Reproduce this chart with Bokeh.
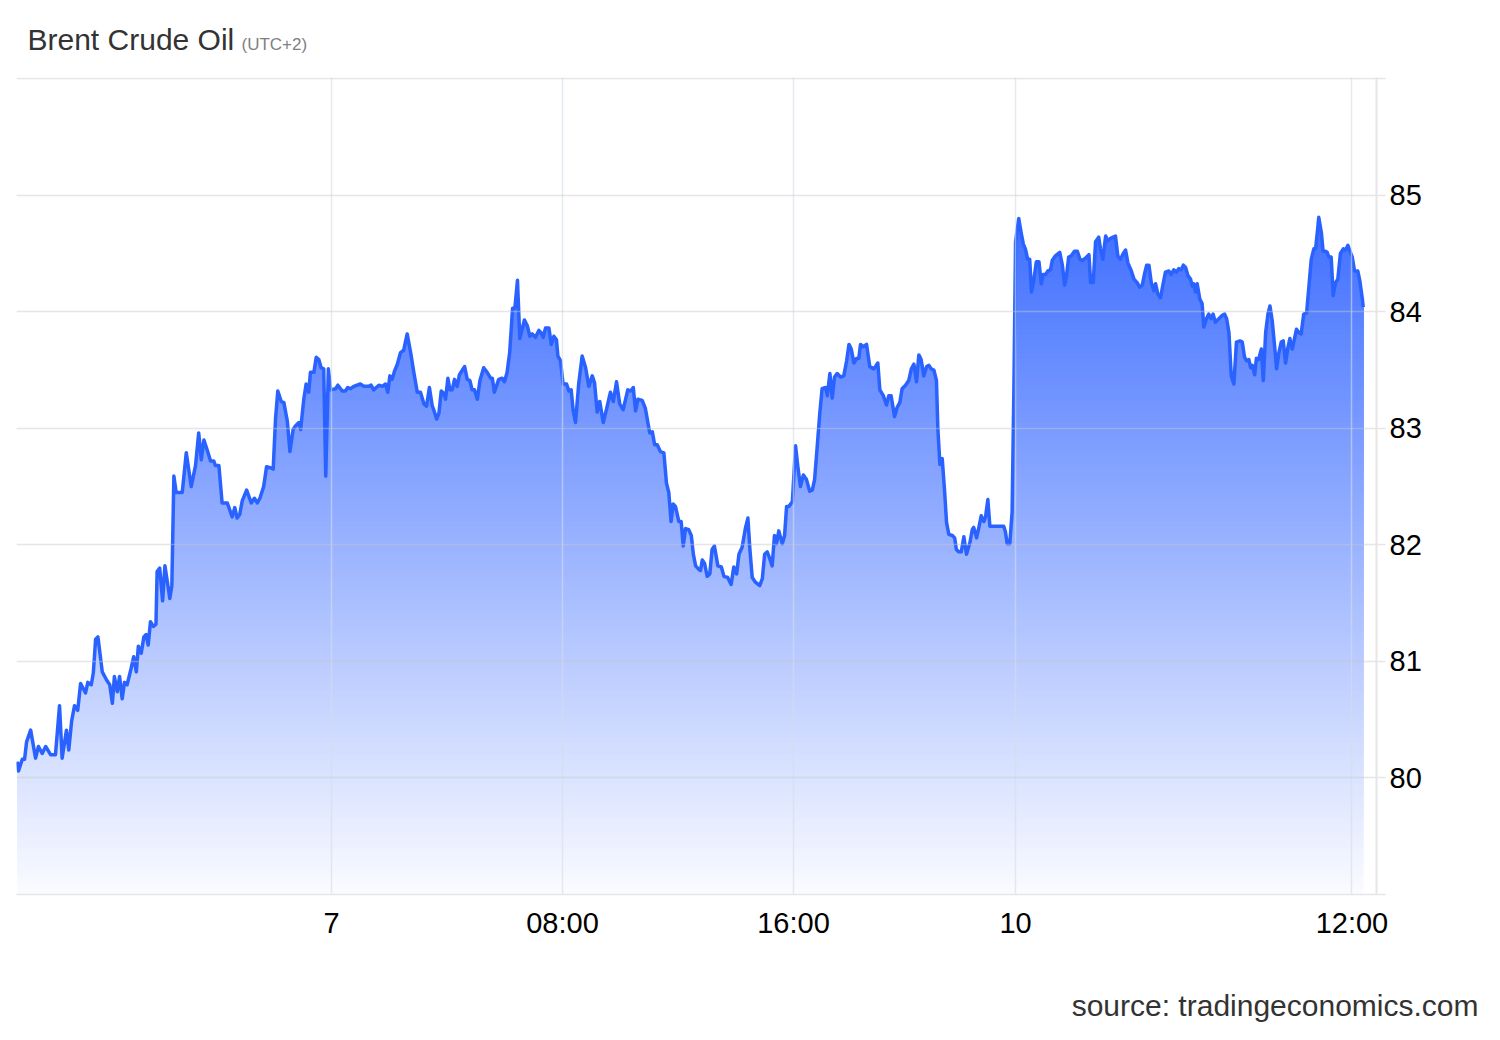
import numpy as np
from bokeh.plotting import figure
from bokeh.models import Range1d, FixedTicker, Label
from bokeh.embed import file_html
from bokeh.resources import INLINE

TITLE = "Brent Crude Oil"
SUBTITLE = "(UTC+2)"
SOURCE = "source: tradingeconomics.com"

# trading hours relative to day "7" 00:00 (weekend removed)
TIME_H = [
    -10.88, -10.84, -10.71, -10.63, -10.56, -10.42, -10.25, -10.15, -10.02, -9.90,
    -9.73, -9.56, -9.42, -9.33, -9.18, -9.10, -9.00, -8.90, -8.79, -8.69,
    -8.52, -8.44, -8.32, -8.25, -8.17, -8.09, -7.94, -7.79, -7.68, -7.59,
    -7.52, -7.42, -7.34, -7.25, -7.17, -7.08, -6.94, -6.85, -6.76, -6.69,
    -6.59, -6.50, -6.42, -6.35, -6.27, -6.17, -6.08, -6.04, -5.95, -5.85,
    -5.77, -5.69, -5.60, -5.53, -5.46, -5.38, -5.17, -5.03, -4.86, -4.71,
    -4.60, -4.51, -4.42, -4.30, -4.19, -4.08, -4.02, -3.90, -3.79, -3.61,
    -3.44, -3.35, -3.27, -3.18, -3.09, -2.94, -2.78, -2.67, -2.57, -2.48,
    -2.35, -2.25, -2.09, -2.02, -1.94, -1.86, -1.74, -1.65, -1.53, -1.44,
    -1.33, -1.25, -1.13, -1.07, -0.96, -0.88, -0.79, -0.73, -0.61, -0.53,
    -0.44, -0.36, -0.27, -0.20, -0.11, -0.03, 0.14, 0.22, 0.37, 0.48,
    0.56, 0.66, 0.77, 1.00, 1.12, 1.29, 1.37, 1.46, 1.64, 1.76,
    1.87, 1.95, 2.02, 2.10, 2.18, 2.28, 2.39, 2.50, 2.62, 2.74,
    2.85, 2.97, 3.08, 3.20, 3.29, 3.39, 3.49, 3.54, 3.64, 3.72,
    3.80, 3.89, 3.95, 4.03, 4.10, 4.18, 4.26, 4.35, 4.43, 4.61,
    4.70, 4.79, 4.87, 4.95, 5.05, 5.14, 5.27, 5.39, 5.51, 5.57,
    5.64, 5.79, 5.91, 5.99, 6.08, 6.17, 6.27, 6.35, 6.44, 6.52,
    6.68, 6.78, 6.87, 6.95, 7.06, 7.18, 7.26, 7.33, 7.41, 7.53,
    7.61, 7.70, 7.79, 7.84, 7.93, 8.02, 8.14, 8.22, 8.30, 8.37,
    8.45, 8.56, 8.68, 8.80, 8.91, 9.03, 9.11, 9.20, 9.29, 9.41,
    9.52, 9.66, 9.76, 9.87, 9.98, 10.10, 10.26, 10.36, 10.45, 10.53,
    10.61, 10.76, 10.87, 11.02, 11.11, 11.19, 11.28, 11.39, 11.51, 11.60,
    11.68, 11.76, 11.83, 11.91, 12.03, 12.11, 12.18, 12.26, 12.37, 12.46,
    12.53, 12.61, 12.72, 12.78, 12.84, 12.92, 13.01, 13.10, 13.18, 13.26,
    13.38, 13.50, 13.59, 13.72, 13.84, 13.93, 14.03, 14.11, 14.22, 14.34,
    14.42, 14.49, 14.57, 14.68, 14.83, 14.92, 15.00, 15.09, 15.18, 15.26,
    15.34, 15.41, 15.49, 15.61, 15.69, 15.76, 15.84, 15.96, 16.07, 16.15,
    16.24, 16.34, 16.45, 16.56, 16.65, 16.73, 16.82, 16.91, 16.99, 17.11,
    17.17, 17.26, 17.34, 17.42, 17.51, 17.63, 17.74, 17.84, 17.92, 18.00,
    18.09, 18.18, 18.26, 18.32, 18.41, 18.53, 18.64, 18.78, 18.84, 18.92,
    18.99, 19.11, 19.22, 19.30, 19.38, 19.50, 19.59, 19.68, 19.76, 19.88,
    19.99, 20.08, 20.17, 20.26, 20.34, 20.42, 20.51, 20.61, 20.69, 20.77,
    20.86, 20.95, 21.00, 21.07, 21.15, 21.23, 21.30, 21.38, 21.50, 21.58,
    21.64, 21.72, 21.81, 21.90, 21.99, 22.11, 22.19, 22.24, 22.34, 22.42,
    22.50, 22.59, 22.65, 22.73, 22.80, 22.94, 23.11, 23.28, 23.34, 23.40,
    23.49, 23.57, 23.63, 23.69, 23.80, 23.89, 23.96, 24.03, 24.11, 24.18,
    24.24, 24.32, 24.41, 24.50, 24.58, 24.65, 24.73, 24.81, 24.90, 24.96,
    25.07, 25.22, 25.31, 25.39, 25.45, 25.53, 25.62, 25.73, 25.83, 25.92,
    26.00, 26.11, 26.23, 26.29, 26.38, 26.46, 26.57, 26.63, 26.71, 26.81,
    26.88, 26.98, 27.15, 27.23, 27.32, 27.42, 27.50, 27.58, 27.70, 27.79,
    27.90, 27.99, 28.08, 28.16, 28.23, 28.31, 28.39, 28.48, 28.54, 28.62,
    28.71, 28.80, 28.88, 29.00, 29.08, 29.17, 29.26, 29.34, 29.43, 29.50,
    29.58, 29.66, 29.75, 29.81, 29.86, 29.92, 29.98, 30.07, 30.15, 30.21,
    30.30, 30.38, 30.46, 30.53, 30.61, 30.73, 30.85, 30.93, 31.00, 31.08,
    31.16, 31.25, 31.34, 31.46, 31.54, 31.62, 31.69, 31.77, 31.83, 31.89,
    31.97, 32.03, 32.11, 32.20, 32.27, 32.35, 32.43, 32.50, 32.58, 32.66,
    32.73, 32.81, 32.89, 32.96, 33.04, 33.12, 33.19, 33.27, 33.35, 33.42,
    33.50, 33.58, 33.67, 33.77, 33.85, 33.93, 34.02, 34.08, 34.14, 34.19,
    34.28, 34.34, 34.42, 34.48, 34.54, 34.62, 34.69, 34.77, 34.85, 34.94,
    35.04, 35.12, 35.20, 35.27, 35.35, 35.43, 35.54, 35.61, 35.70, 35.73,
]

PRICE = [
    80.14, 80.06, 80.16, 80.16, 80.31, 80.41, 80.17, 80.27, 80.21, 80.27,
    80.20, 80.20, 80.62, 80.17, 80.41, 80.24, 80.49, 80.62, 80.58, 80.81,
    80.73, 80.82, 80.80, 80.90, 81.19, 81.21, 80.91, 80.84, 80.80, 80.64,
    80.87, 80.74, 80.87, 80.68, 80.82, 80.80, 80.94, 81.04, 80.91, 81.13,
    81.07, 81.21, 81.23, 81.14, 81.34, 81.30, 81.32, 81.77, 81.80, 81.52,
    81.82, 81.69, 81.54, 81.65, 82.59, 82.45, 82.45, 82.79, 82.50, 82.68,
    82.96, 82.73, 82.90, 82.81, 82.72, 82.72, 82.68, 82.68, 82.36, 82.36,
    82.24, 82.32, 82.23, 82.26, 82.38, 82.47, 82.36, 82.40, 82.36, 82.40,
    82.50, 82.67, 82.66, 82.65, 83.08, 83.32, 83.23, 83.22, 83.06, 82.80,
    82.99, 83.02, 83.05, 82.99, 83.25, 83.38, 83.31, 83.48, 83.48, 83.61,
    83.59, 83.52, 83.51, 82.59, 83.51, 83.33, 83.34, 83.37, 83.32, 83.32,
    83.35, 83.34, 83.36, 83.38, 83.36, 83.36, 83.37, 83.33, 83.37, 83.36,
    83.38, 83.31, 83.45, 83.42, 83.49, 83.55, 83.65, 83.67, 83.81, 83.65,
    83.48, 83.31, 83.31, 83.21, 83.19, 83.35, 83.19, 83.16, 83.08, 83.13,
    83.32, 83.30, 83.25, 83.43, 83.33, 83.33, 83.42, 83.36, 83.46, 83.53,
    83.42, 83.41, 83.33, 83.33, 83.25, 83.41, 83.52, 83.48, 83.43, 83.43,
    83.31, 83.42, 83.43, 83.40, 83.48, 83.65, 84.03, 84.03, 84.27, 83.77,
    83.93, 83.88, 83.79, 83.81, 83.78, 83.84, 83.82, 83.78, 83.86, 83.86,
    83.72, 83.79, 83.76, 83.62, 83.58, 83.38, 83.38, 83.32, 83.33, 83.15,
    83.05, 83.38, 83.62, 83.52, 83.36, 83.45, 83.39, 83.14, 83.23, 83.05,
    83.16, 83.31, 83.23, 83.40, 83.21, 83.16, 83.33, 83.32, 83.35, 83.15,
    83.25, 83.24, 83.17, 82.96, 82.97, 82.86, 82.86, 82.80, 82.79, 82.53,
    82.45, 82.20, 82.35, 82.33, 82.20, 82.20, 81.99, 82.14, 82.13, 82.08,
    81.92, 81.82, 81.79, 81.78, 81.87, 81.84, 81.73, 81.75, 81.96, 81.99,
    81.82, 81.81, 81.73, 81.72, 81.66, 81.81, 81.75, 81.92, 81.98, 82.15,
    82.23, 81.96, 81.72, 81.68, 81.65, 81.71, 81.92, 81.94, 81.88, 81.82,
    82.08, 82.01, 82.12, 82.01, 82.08, 82.33, 82.33, 82.37, 82.85, 82.67,
    82.50, 82.60, 82.56, 82.46, 82.47, 82.56, 82.84, 83.13, 83.34, 83.35,
    83.28, 83.47, 83.26, 83.44, 83.47, 83.44, 83.45, 83.58, 83.72, 83.68,
    83.56, 83.60, 83.60, 83.72, 83.70, 83.72, 83.53, 83.51, 83.53, 83.56,
    83.33, 83.28, 83.20, 83.28, 83.28, 83.10, 83.18, 83.22, 83.34, 83.37,
    83.41, 83.51, 83.55, 83.40, 83.63, 83.59, 83.45, 83.53, 83.54, 83.51,
    83.50, 83.41, 82.99, 82.69, 82.74, 82.47, 82.19, 82.09, 82.08, 82.06,
    81.96, 81.94, 81.94, 82.07, 81.92, 82.02, 82.13, 82.15, 82.06, 82.15,
    82.25, 82.20, 82.24, 82.39, 82.16, 82.16, 82.16, 82.16, 82.11, 82.01,
    82.01, 82.28, 83.30, 84.60, 84.80, 84.67, 84.58, 84.54, 84.45, 84.45,
    84.17, 84.27, 84.43, 84.43, 84.24, 84.32, 84.32, 84.35, 84.36, 84.44,
    84.48, 84.51, 84.40, 84.23, 84.30, 84.47, 84.48, 84.52, 84.52, 84.45,
    84.44, 84.46, 84.49, 84.25, 84.25, 84.60, 84.64, 84.54, 84.45, 84.65,
    84.61, 84.63, 84.65, 84.48, 84.45, 84.50, 84.53, 84.42, 84.35, 84.28,
    84.25, 84.21, 84.23, 84.33, 84.40, 84.40, 84.25, 84.18, 84.24, 84.15,
    84.12, 84.24, 84.34, 84.35, 84.32, 84.36, 84.34, 84.37, 84.36, 84.40,
    84.38, 84.31, 84.28, 84.22, 84.24, 84.17, 84.24, 84.11, 84.07, 83.87,
    83.94, 83.98, 83.94, 83.98, 83.91, 83.94, 83.97, 83.98, 83.94, 83.82,
    83.45, 83.38, 83.74, 83.75, 83.74, 83.61, 83.58, 83.59, 83.52, 83.54,
    83.46, 83.60, 83.59, 83.68, 83.41, 83.82, 83.98, 84.05, 83.92, 83.71,
    83.51, 83.65, 83.74, 83.75, 83.56, 83.69, 83.77, 83.68, 83.77, 83.85,
    83.82, 83.81, 83.98, 83.99, 84.22, 84.45, 84.54, 84.54, 84.68, 84.81,
    84.68, 84.52, 84.52, 84.51, 84.47, 84.47, 84.14, 84.25, 84.28, 84.50,
    84.54, 84.53, 84.57, 84.52, 84.47, 84.35, 84.35, 84.27, 84.11, 84.04,
]

X_TICKS = [0.0, 8.0, 16.0, 23.69, 35.34]
X_LABELS = ["7", "08:00", "16:00", "10", "12:00"]
Y_TICKS = [80, 81, 82, 83, 84, 85]
Y_BOTTOM, Y_TOP = 79, 86
X_MIN, X_MAX = -10.91, 36.19

LINE_COLOR = "#2962ff"
TOP_RGB = (62, 110, 255)
BOTTOM_RGB = (250, 251, 255)
FONT = "Liberation Sans"

W, H = 1492, 1030
p = figure(width=W, height=H, output_backend="svg", toolbar_location=None,
           x_range=Range1d(X_MIN, X_MAX), y_range=Range1d(Y_BOTTOM, Y_TOP + 0.01),
           y_axis_location="right",
           min_border_left=16, min_border_right=116,
           min_border_top=77, min_border_bottom=136)
p.outline_line_color = None
p.background_fill_color = "white"
p.border_fill_color = "white"

# title
p.title.text = TITLE
p.title.align = "left"
p.title.offset = 11
p.title.standoff = 6
p.title.text_font = FONT
p.title.text_font_size = "30px"
p.title.text_font_style = "normal"
p.title.text_color = "#333333"

# gradient area: stacked opaque bands, painted bottom-up
xs = np.asarray(TIME_H, dtype=float)
ys = np.asarray(PRICE, dtype=float)
top_v = ys.max()


def band_top(level):
    ox, oy = [xs[0]], [max(ys[0], level)]
    for i in range(len(xs) - 1):
        d0, d1 = ys[i] - level, ys[i + 1] - level
        if d0 * d1 < 0:
            t = d0 / (d0 - d1)
            ox.append(xs[i] + t * (xs[i + 1] - xs[i]))
            oy.append(level)
        ox.append(xs[i + 1])
        oy.append(max(ys[i + 1], level))
    return ox, oy


levels = np.arange(Y_BOTTOM, top_v, 0.05)
for lv in levels:
    t = (lv - Y_BOTTOM) / (top_v - Y_BOTTOM)
    r = int(round(BOTTOM_RGB[0] + (TOP_RGB[0] - BOTTOM_RGB[0]) * t))
    g = int(round(BOTTOM_RGB[1] + (TOP_RGB[1] - BOTTOM_RGB[1]) * t))
    b = int(round(BOTTOM_RGB[2] + (TOP_RGB[2] - BOTTOM_RGB[2]) * t))
    ox, oy = band_top(lv)
    band = p.varea(x=ox, y1=float(lv), y2=oy, fill_color="#%02x%02x%02x" % (r, g, b))
    band.level = "underlay"

p.line(xs, ys, line_color=LINE_COLOR, line_width=3.5, line_join="round")

# axes
xa = p.xaxis[0]
xa.ticker = FixedTicker(ticks=X_TICKS)
xa.major_label_overrides = dict(zip(X_TICKS, X_LABELS))
xa.axis_line_color = "#e6e6e6"
xa.axis_line_width = 1.5
xa.major_tick_line_color = None
xa.minor_tick_line_color = None
xa.major_label_text_font = FONT
xa.major_label_text_font_size = "29px"
xa.major_label_text_color = "#000000"
xa.major_label_standoff = 6

ya = p.yaxis[0]
ya.ticker = FixedTicker(ticks=[Y_BOTTOM] + Y_TICKS + [Y_TOP])
ya.major_label_overrides = {Y_BOTTOM: "", Y_TOP: ""}
ya.axis_line_color = "#e6e6e6"
ya.axis_line_width = 2
ya.major_tick_line_color = "#e6e6e6"
ya.major_tick_line_width = 1.5
ya.major_tick_out = 9
ya.major_tick_in = 0
ya.minor_tick_line_color = None
ya.major_label_standoff = 4
ya.major_label_text_font = FONT
ya.major_label_text_font_size = "29px"
ya.major_label_text_color = "#000000"

p.ygrid.grid_line_color = "#c8c8c8"
p.ygrid.grid_line_alpha = 0.45
p.ygrid.grid_line_width = 1.5
p.ygrid.level = "glyph"
p.xgrid.grid_line_color = "#d3dcea"
p.xgrid.grid_line_alpha = 0.6
p.xgrid.grid_line_width = 1.5
p.xgrid.level = "glyph"

# subtitle next to the title (in the top side panel so it is not clipped)
p.add_layout(Label(x=225, y=33, x_units="screen", y_units="screen", text=SUBTITLE,
                   text_font=FONT, text_font_size="17px", text_color="#808080",
                   text_baseline="alphabetic", text_align="left"), "above")

# source line below the chart (in the bottom side panel)
p.add_layout(Label(x=1462, y=-31, x_units="screen", y_units="screen", text=SOURCE,
                   text_font=FONT, text_font_size="30px", text_color="#333333",
                   text_baseline="alphabetic", text_align="right"), "below")

open("out.html", "w").write(file_html(p, INLINE))
